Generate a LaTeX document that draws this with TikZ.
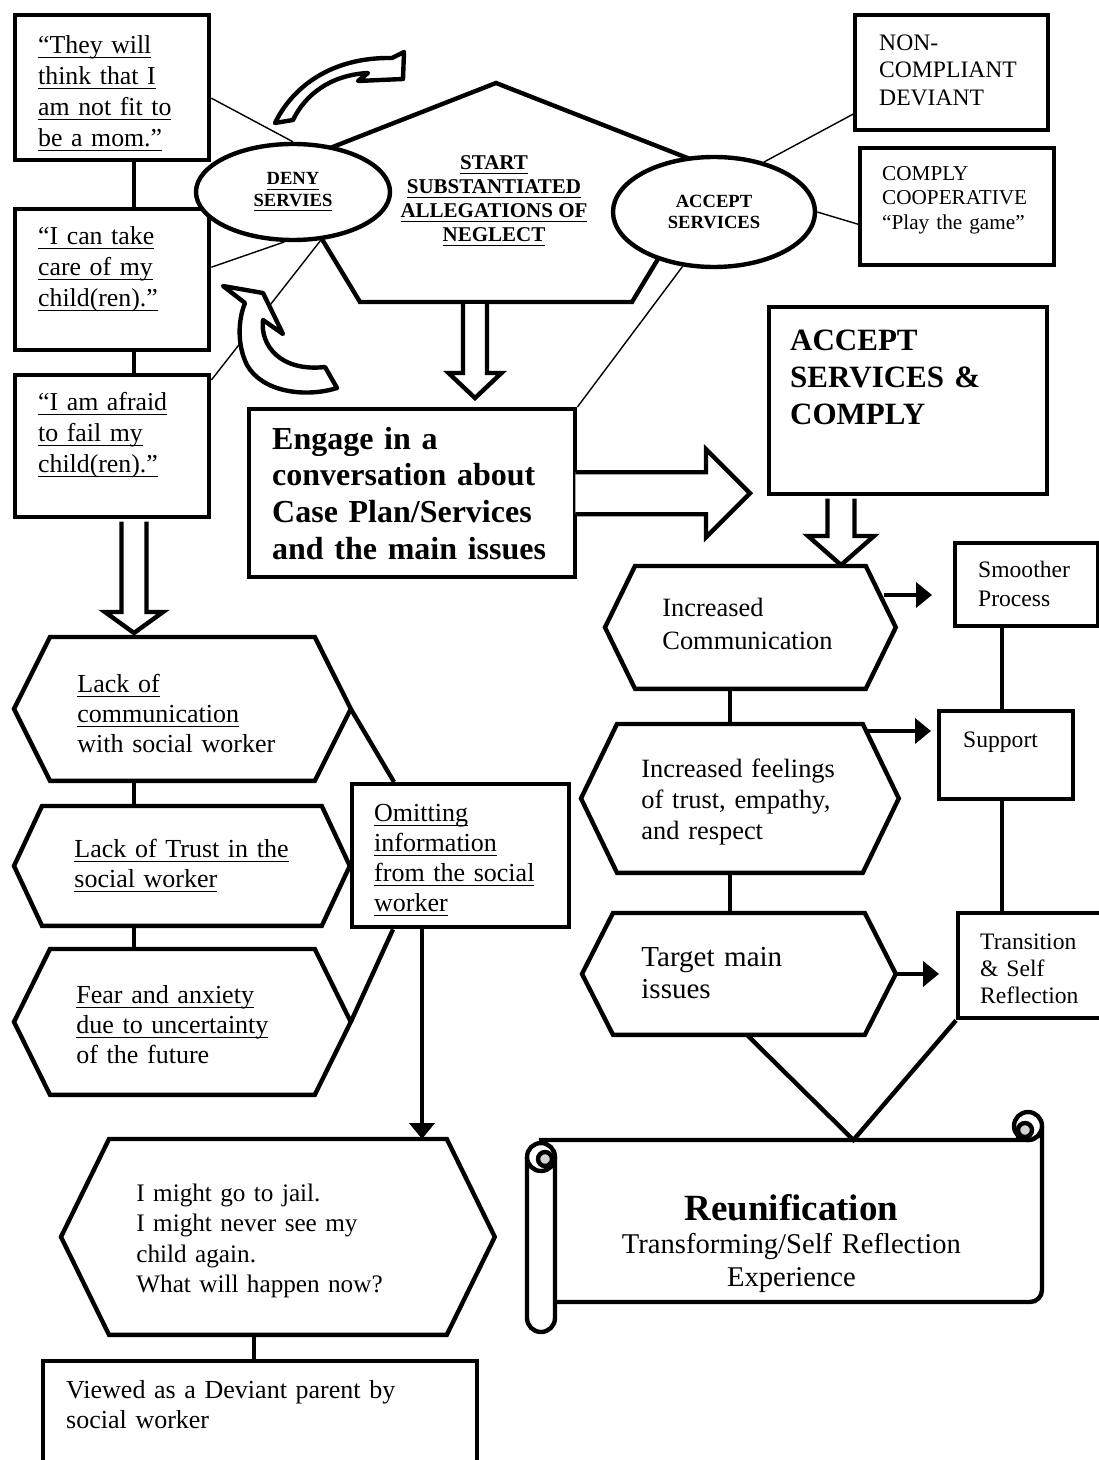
\documentclass[tikz,border=0pt]{standalone}
\usepackage{fontspec}
\setmainfont{Liberation Serif}
\usetikzlibrary{calc,arrows.meta,shapes.geometric}
\newsavebox\ulnbox
\newcommand\uln[1]{\leavevmode\sbox\ulnbox{#1}\rlap{\rule[-2.5pt]{\wd\ulnbox}{0.6pt}}\usebox\ulnbox}
\begin{document}
\begin{tikzpicture}[x=0.5pt,y=-0.5pt,
  thk/.style={line width=2.2pt},
  thn/.style={line width=0.7pt},
  bx/.style={draw,thk,fill=white,rectangle,anchor=north west,inner ysep=0pt,align=left},
  hx/.style={rectangle,anchor=north west,inner ysep=0pt,align=left},
  el/.style={draw,thk,fill=white,ellipse,inner sep=0pt,align=center,font=\fontsize{9.3}{10.75}\selectfont\bfseries},
  hollow/.style={thk,fill=white,line join=miter},
  curly/.style={thk,fill=white,line join=round},
  arr/.style={thk,-{Triangle[length=8pt,width=12.5pt]}},
  fq/.style={font=\fontsize{12.9}{15.5}\selectfont},
  fn/.style={font=\fontsize{13}{15}\selectfont}]
% coordinates in pixels of the page, y downwards
\def\hexa#1#2{\draw[thk] (#1.north west) -- (#1.north east) -- ([xshift=#2]#1.east)
  -- (#1.south east) -- (#1.south west) -- ([xshift=-#2]#1.west) -- cycle;}
\def\hollowdown#1#2#3#4#5{\draw[hollow] let \p1=(#1), \p2=(#2) in
  (\x1-#3,\y1-1.1pt) -- (\x1-#3,\y2+#5) -- (\x1-#4,\y2+#5) -- (\x1,\y2)
  -- (\x1+#4,\y2+#5) -- (\x1+#3,\y2+#5) -- (\x1+#3,\y1-1.1pt);}
\def\hollowright#1#2#3#4#5{\draw[hollow] let \p1=(#1), \p2=(#2) in
  (\x1,\y1+#3) -- (\x2-#5,\y1+#3) -- (\x2-#5,\y1+#4) -- (\x2,\y1)
  -- (\x2-#5,\y1-#4) -- (\x2-#5,\y1-#3) -- (\x1,\y1-#3);}
\useasboundingbox (0,0) rectangle (1098,1460);
\draw[thk,line join=miter] (496,83) -- (713,168) -- (632,302) -- (360,302) -- (279,168) -- cycle;
\draw[thk,fill=white] (541,1140) -- (1028,1140) arc[start angle=270,end angle=360,radius=7pt]
  -- (1042,1290) arc[start angle=0,end angle=-90,radius=6pt] -- (541,1302) -- cycle;
\draw[thk,fill=white] (1028,1126) circle[radius=7pt];
\draw[thk,fill=gray!35] (1025,1130) circle[radius=3.5pt];
\draw[thk] (1018,1131) -- (1018,1140);
\draw[thk,fill=white] (527,1157) -- (527,1318) arc[start angle=180,end angle=360,radius=7pt] -- (555,1157);
\draw[thk,fill=white] (541,1157) circle[radius=7pt];
\draw[thk,fill=gray!35] (545,1159) circle[radius=3.5pt];
\node[bx,fq,inner xsep=11.5pt,text width=74pt,text height=19pt,text depth=53.5pt] (b1) at (13,13)
  {\uln{“They will}\\\uln{think that I}\\\uln{am not fit to}\\\uln{be a mom.”}};
\node[bx,fq,inner xsep=11.5pt,text width=74pt,text height=17.5pt,text depth=53pt] (b2) at (13,207)
  {\uln{“I can take}\\\uln{care of my}\\\uln{child(ren).”}};
\node[bx,fq,inner xsep=11.5pt,text width=74pt,text height=17.5pt,text depth=53.5pt] (b3) at (13,373)
  {\uln{“I am afraid}\\\uln{to fail my}\\\uln{child(ren).”}};
\node[font=\fontsize{10.5}{12}\selectfont\bfseries,align=center] (start) at (494,201)
  {\uln{START}\\\uln{SUBSTANTIATED}\\\uln{ALLEGATIONS OF}\\\uln{NEGLECT}};
\node[el,minimum width=97pt,minimum height=48pt] (deny) at (293,192) {\uln{DENY}\\\uln{SERVIES}};
\node[el,minimum width=101pt,minimum height=55pt] (acce) at (714,212) {ACCEPT\\SERVICES};
\node[bx,font=\fontsize{11.8}{13.75}\selectfont,inner xsep=12pt,text width=72.5pt,text height=17.5pt,text depth=40pt] (non) at (853,13)
  {NON-\\COMPLIANT\\DEVIANT};
\node[bx,font=\fontsize{10.6}{12.25}\selectfont,inner xsep=11pt,text width=75pt,text height=16pt,text depth=42.5pt] (comply) at (858,146)
  {COMPLY\\COOPERATIVE\\“Play the game”};
\node[bx,font=\fontsize{16}{18.3}\selectfont\bfseries,inner xsep=11.5pt,text width=140pt,text height=20pt,text depth=64pt] (engage) at (247,407)
  {Engage in a\\conversation about\\Case Plan/Services\\and the main issues};
\node[bx,font=\fontsize{15.5}{18.5}\selectfont\bfseries,inner xsep=10.5pt,text width=118pt,text height=21.5pt,text depth=72pt] (acc) at (767,305)
  {ACCEPT\\SERVICES \&\\COMPLY};
\node[hx,fn,inner xsep=13.5pt,text width=105pt,text height=27.5pt,text depth=44pt] (l1) at (50,637)
  {\uln{Lack of}\\\uln{communication}\\with social worker};
\node[hx,fn,inner xsep=16pt,text width=107.5pt,text height=25.5pt,text depth=34pt] (l2) at (42,806)
  {\uln{Lack of Trust in the}\\\uln{social worker}};
\node[hx,fn,inner xsep=13pt,text width=106pt,text height=27pt,text depth=45.5pt] (l3) at (50,949)
  {\uln{Fear and anxiety}\\\uln{due to uncertainty}\\of the future};
\node[bx,fn,inner xsep=11pt,text width=86.5pt,text height=18.5pt,text depth=53pt] (omit) at (350,782)
  {\uln{Omitting}\\\uln{information}\\\uln{from the social}\\\uln{worker}};
\node[hx,font=\fontsize{12.6}{15.2}\selectfont,inner xsep=13.5pt,text width=141.5pt,text height=31pt,text depth=66.5pt] (l4) at (109,1139)
  {I might go to jail.\\I might never see my\\child again.\\What will happen now?};
\node[bx,fn,inner xsep=11.5pt,text width=194pt,text height=18.5pt,text depth=41.5pt] (view) at (41,1359)
  {Viewed as a Deviant parent by\\social worker};
\node[hx,font=\fontsize{13.2}{16.5}\selectfont,inner xsep=13.5pt,text width=88pt,text height=25pt,text depth=36pt] (r1) at (635,566)
  {Increased\\Communication};
\node[hx,font=\fontsize{13.2}{15.5}\selectfont,inner xsep=12pt,text width=98.5pt,text height=26.5pt,text depth=47.5pt] (r2) at (617,724)
  {Increased feelings\\of trust, empathy,\\and respect};
\node[hx,font=\fontsize{14.5}{16}\selectfont,inner xsep=14pt,text width=97.5pt,text height=26.5pt,text depth=34pt] (r3) at (613,913)
  {Target main\\issues};
\node[bx,font=\fontsize{11.8}{14.5}\selectfont,inner xsep=11.5pt,text width=48.5pt,text height=17pt,text depth=24.5pt] (smooth) at (953,541)
  {Smoother\\Process};
\node[bx,font=\fontsize{11.8}{14.5}\selectfont,inner xsep=12pt,text width=43pt,text height=18pt,text depth=26pt] (support) at (937,709)
  {Support};
\node[bx,font=\fontsize{11.8}{13.5}\selectfont,inner xsep=11pt,text width=51pt,text height=18pt,text depth=34.5pt] (trans) at (956,911)
  {Transition\\\& Self\\Reflection};
\node[hx,inner xsep=0pt,text width=251pt,align=center,text height=40pt,text depth=41pt,font=\fontsize{14.3}{16.5}\selectfont] (scroll) at (540,1140)
  {{\fontsize{18.5}{20}\selectfont\bfseries Reunification}\\Transforming/Self Reflection\\Experience};
\hexa{l1}{18pt}
\hexa{l2}{14pt}
\hexa{l3}{18pt}
\hexa{l4}{24pt}
\hexa{r1}{15pt}
\hexa{r2}{18pt}
\hexa{r3}{15.5pt}
\coordinate (xl) at (134,0);
\coordinate (xr) at (730,0);
\coordinate (xs) at (1002,0);
\coordinate (xv) at (254,0);
\coordinate (xo) at (422,0);
\draw[thk] (b1.south -| xl) -- (b2.north -| xl);
\draw[thk] (b2.south -| xl) -- (b3.north -| xl);
\draw[thk] (l1.south -| xl) -- (l2.north -| xl);
\draw[thk] (l2.south -| xl) -- (l3.north -| xl);
\draw[thk] (l4.south -| xv) -- (view.north -| xv);
\draw[thk] (r1.south -| xr) -- (r2.north -| xr);
\draw[thk] (r2.south -| xr) -- (r3.north -| xr);
\draw[thk] (smooth.south -| xs) -- (support.north -| xs);
\draw[thk] (support.south -| xs) -- (trans.north -| xs);
\draw[arr] (omit.south -| xo) -- (l4.north -| xo);
\draw[thk] ([xshift=18pt]l1.east) -- ([xshift=22pt]omit.north west);
\draw[thk] ([xshift=21.5pt]omit.south west) -- ([xshift=18pt]l3.east);
\draw[thk] ([xshift=4pt]r3.south) -- ([xshift=31pt]scroll.north) -- (trans.south west);
\coordinate (s1) at (884,595);
\coordinate (s2) at (866,731);
\draw[arr,shorten >=10.5pt] (s1) -- (smooth.west |- s1);
\draw[arr,shorten >=3pt] (s2) -- (support.west |- s2);
\draw[arr,shorten >=8.5pt] ([xshift=15.5pt]r3.east) -- (trans.west |- r3.east);
\draw[thn] ([yshift=-5.25pt]b1.east) -- (deny.north);
\draw[thn] ([yshift=6.25pt]b2.east) -- (deny.260);
\draw[thn] ([yshift=-3.5pt]b3.north east) -- (deny.300);
\draw[thn] (acce.45) -- ([yshift=-20.75pt]non.west);
\draw[thn] (acce.east) -- ([yshift=-8.75pt]comply.west);
\draw[thn] (acce.240) -- (engage.north east);
\coordinate (pentb) at (475,302);
\coordinate (tipA) at (475,398);
\coordinate (tipB) at (134,633);
\coordinate (tipC) at (841,565);
\coordinate (tipE) at (750,491);
\hollowdown{pentb}{tipA}{6pt}{13.25pt}{12.5pt}
\hollowdown{b3.south -| tipB}{tipB}{6.25pt}{14.5pt}{10.5pt}
\hollowdown{acc.south -| tipC}{tipC}{6.75pt}{16.5pt}{14.5pt}
\hollowright{[xshift=-1pt]engage.east}{tipE}{10.5pt}{22pt}{22pt}
\draw[curly] (275,123) .. controls (292,88) and (330,57) .. (392,58) -- (404,52) -- (403,79)
  -- (358,81) -- (368,73) .. controls (330,75) and (305,95) .. (293,120) -- cycle;
\draw[curly] (223,286) -- (263,293) -- (283,334) -- (263,320) .. controls (260,345) and (280,372) .. (325,367)
  -- (337,388) .. controls (305,398) and (262,392) .. (247,365) .. controls (237,345) and (238,320) .. (245,303) -- cycle;
\end{tikzpicture}
\end{document}
